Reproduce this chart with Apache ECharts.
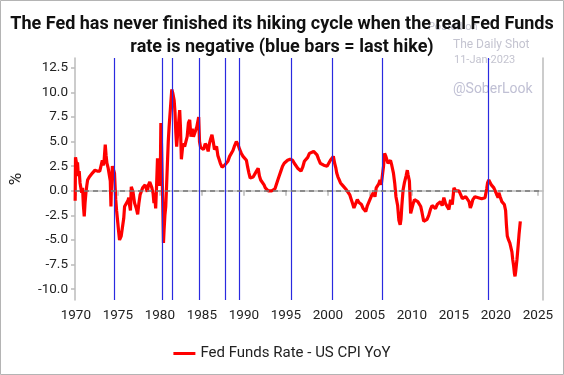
<!DOCTYPE html>
<html>
<head>
<meta charset="utf-8">
<script src="https://cdn.jsdelivr.net/npm/echarts@6/dist/echarts.min.js"></script>
<style>
  html, body { margin: 0; padding: 0; background: #fff; }
  #chart { width: 564px; height: 375px; }
</style>
</head>
<body>
<div id="chart"></div>
<script>
// decimal year / Fed funds minus CPI (%)
var dates = [
  1969.92, 1969.96, 1970.05, 1970.12, 1970.2, 1970.3, 1970.4, 1970.5, 1970.6, 1970.7, 1970.8, 1970.9,
  1971.0, 1971.1, 1971.2, 1971.3, 1971.4, 1971.5, 1971.6, 1971.7, 1971.8, 1971.97, 1972.1, 1972.28,
  1972.4, 1972.55, 1972.7, 1972.85, 1973.0, 1973.15, 1973.25, 1973.35, 1973.5, 1973.6, 1973.7, 1973.85,
  1974.0, 1974.1, 1974.18, 1974.25, 1974.35, 1974.5, 1974.6, 1974.68, 1974.75, 1974.85, 1975.0, 1975.1,
  1975.2, 1975.3, 1975.4, 1975.55, 1975.7, 1975.8, 1976.0, 1976.2, 1976.3, 1976.4, 1976.5, 1976.6,
  1976.7, 1976.8, 1976.99, 1977.2, 1977.36, 1977.5, 1977.65, 1977.8, 1977.95, 1978.1, 1978.25, 1978.4,
  1978.5, 1978.65, 1978.8, 1978.93, 1979.05, 1979.2, 1979.3, 1979.4, 1979.5, 1979.6, 1979.72, 1979.85,
  1979.95, 1980.05, 1980.12, 1980.2, 1980.3, 1980.38, 1980.43, 1980.5, 1980.6, 1980.7, 1980.8, 1980.9,
  1981.0, 1981.1, 1981.3, 1981.42, 1981.55, 1981.7, 1981.8, 1981.9, 1982.0, 1982.1, 1982.2, 1982.36,
  1982.45, 1982.56, 1982.75, 1982.95, 1983.1, 1983.25, 1983.4, 1983.55, 1983.7, 1983.85, 1984.0, 1984.2,
  1984.4, 1984.62, 1984.72, 1984.85, 1985.0, 1985.2, 1985.4, 1985.6, 1985.75, 1985.9, 1986.05, 1986.2,
  1986.35, 1986.5, 1986.6, 1986.75, 1986.9, 1987.05, 1987.2, 1987.4, 1987.55, 1987.7, 1987.9, 1988.1,
  1988.3, 1988.5, 1988.7, 1988.9, 1989.1, 1989.3, 1989.5, 1989.7, 1989.9, 1990.1, 1990.3, 1990.45,
  1990.6, 1990.75, 1990.9, 1991.1, 1991.3, 1991.5, 1991.7, 1991.85, 1992.0, 1992.2, 1992.4, 1992.55,
  1992.7, 1992.9, 1993.1, 1993.3, 1993.5, 1993.7, 1993.85, 1994.0, 1994.2, 1994.4, 1994.6, 1994.8,
  1995.0, 1995.2, 1995.5, 1995.8, 1996.0, 1996.2, 1996.4, 1996.6, 1996.8, 1997.0, 1997.2, 1997.35,
  1997.6, 1997.8, 1998.0, 1998.3, 1998.5, 1998.7, 1998.9, 1999.1, 1999.3, 1999.5, 1999.7, 1999.9,
  2000.1, 2000.3, 2000.5, 2000.65, 2000.8, 2000.95, 2001.05, 2001.2, 2001.35, 2001.5, 2001.65, 2001.8,
  2002.0, 2002.2, 2002.4, 2002.6, 2002.75, 2002.9, 2003.1, 2003.3, 2003.5, 2003.7, 2003.85, 2004.0,
  2004.2, 2004.4, 2004.5, 2004.7, 2004.85, 2005.0, 2005.2, 2005.4, 2005.6, 2005.75, 2005.9, 2006.05,
  2006.2, 2006.35, 2006.5, 2006.62, 2006.75, 2006.9, 2007.0, 2007.15, 2007.3, 2007.45, 2007.6, 2007.8,
  2007.95, 2008.1, 2008.3, 2008.45, 2008.6, 2008.7, 2008.8, 2008.95, 2009.1, 2009.3, 2009.45, 2009.55,
  2009.7, 2009.85, 2010.0, 2010.15, 2010.3, 2010.5, 2010.7, 2010.9, 2011.05, 2011.2, 2011.4, 2011.6,
  2011.8, 2012.0, 2012.2, 2012.4, 2012.6, 2012.8, 2013.0, 2013.2, 2013.4, 2013.6, 2013.8, 2014.0,
  2014.2, 2014.4, 2014.6, 2014.8, 2015.0, 2015.2, 2015.4, 2015.6, 2015.8, 2016.0, 2016.2, 2016.4,
  2016.6, 2016.8, 2016.95, 2017.1, 2017.25, 2017.5, 2017.7, 2017.9, 2018.1, 2018.3, 2018.5, 2018.7,
  2018.9, 2019.0, 2019.15, 2019.3, 2019.45, 2019.6, 2019.75, 2019.95, 2020.1, 2020.25, 2020.35, 2020.5,
  2020.7, 2020.9, 2021.0, 2021.15, 2021.25, 2021.35, 2021.5, 2021.65, 2021.8, 2021.9, 2022.0, 2022.1,
  2022.2, 2022.27, 2022.35, 2022.5, 2022.65, 2022.75, 2022.9
];
var realRate = [
  -1.0, 3.4, 3.5, 2.6, 2.9, 1.5, 2.0, 0.8, 1.0, -0.2, 0.3, -1.5,
  -2.6, -1.2, -0.2, 0.5, 1.1, 0.9, 1.4, 1.5, 1.3, 1.8, 1.7, 2.1,
  1.9, 2.0, 1.8, 2.0, 1.9, 3.1, 2.6, 2.9, 4.7, 3.6, 2.8, 2.3,
  2.1, 1.0, -1.6, 1.0, 2.5, 2.1, 1.8, 0.3, -0.9, -2.0, -3.3, -4.2,
  -5.0, -5.1, -4.6, -4.5, -2.8, -1.6, -1.8, -1.0, -0.7, -1.5, -2.0, 0.4,
  0.3, -0.1, -1.25, -1.8, -2.4, -1.3, -0.4, -0.2, 0.3, 0.1, 0.6, 0.2,
  -0.1, 0.6, 0.9, 1.1, 0.3, -0.3, -1.25, -0.5, -1.8, 0.3, 3.3, 2.1,
  0.5, 1.5, 6.9, 4.5, 0.5, -3.0, -5.3, -4.0, -2.5, -1.6, 0.5, 2.8,
  5.0, 6.5, 8.9, 10.3, 9.9, 9.2, 8.0, 5.9, 4.5, 5.6, 5.5, 8.2,
  6.5, 3.2, 4.8, 4.5, 4.5, 5.5, 6.9, 7.2, 5.5, 6.3, 5.5, 5.7,
  6.5, 7.5, 5.0, 4.4, 4.3, 4.2, 4.8, 4.5, 4.0, 4.8, 5.3, 5.7,
  5.0, 4.2, 4.0, 4.5, 3.6, 3.2, 2.8, 2.4, 2.3, 2.6, 2.8, 3.0,
  3.5, 3.65, 4.1, 4.6, 5.0, 4.7, 4.2, 3.8, 3.5, 3.3, 3.1, 2.4,
  1.8, 1.3, 1.1, 1.4, 1.5, 2.0, 2.3, 1.5, 1.1, 0.9, 0.6, 0.3,
  0.1, 0.0, -0.2, 0.0, 0.1, 0.2, 0.4, 1.0, 1.5, 2.0, 2.5, 2.8,
  3.0, 3.1, 3.2, 3.1, 2.8, 2.6, 2.3, 2.1, 2.0, 2.4, 3.0, 3.1,
  3.4, 3.8, 3.9, 4.0, 3.8, 3.65, 3.2, 2.8, 2.7, 2.6, 2.6, 2.5,
  2.8, 3.1, 3.3, 3.5, 2.8, 2.3, 1.8, 1.4, 1.1, 0.8, 0.6, 0.5,
  0.3, 0.1, 0.0, -0.4, -0.8, -1.2, -1.75, -1.3, -0.9, -1.2, -1.4, -1.4,
  -1.8, -2.0, -2.1, -1.5, -1.2, -0.9, -0.5, -0.2, -0.6, 0.3, 0.1, 0.7,
  1.1, 0.6, 0.8, 2.5, 3.8, 3.5, 3.3, 2.8, 2.6, 3.1, 2.6, 1.8,
  0.8, -0.6, -1.5, -3.0, -3.45, -2.9, -1.5, 0.1, 0.8, 1.5, 2.1, 1.6,
  1.0, -2.3, -2.4, -1.3, -0.9, -1.0, -1.1, -1.2, -1.6, -2.2, -3.1, -3.2,
  -2.9, -2.5, -1.9, -1.5, -1.4, -1.8, -1.4, -1.6, -1.1, -1.5, -0.7, -1.3,
  -1.4, -1.9, -0.9, -1.4, 0.3, 0.0, 0.1, 0.0, -0.4, -0.8, -0.6, -0.6,
  -0.6, -1.1, -1.75, -1.4, -0.9, -0.6, -0.8, -0.7, -0.6, -0.8, -0.6, -0.7,
  0.2, 0.8, 1.1, 0.9, 0.6, 0.5, 0.3, 0.1, -0.4, -0.7, -0.2, -0.6,
  -1.1, -1.25, -1.4, -2.0, -3.5, -4.6, -5.0, -5.3, -5.5, -6.2, -7.0, -7.6,
  -8.4, -8.7, -8.2, -7.0, -5.5, -4.4, -3.1
];
// last hike of each cycle (blue bars)
var lastHikes = [1974.63, 1980.32, 1981.46, 1984.73, 1987.83, 1989.49, 1995.64, 2000.48, 2006.52, 2019.04];
var xTicks = [1970, 1975, 1980, 1985, 1990, 1995, 2000, 2005, 2010, 2015, 2020, 2025];
var yTicks = [-10, -7.5, -5, -2.5, 0, 2.5, 5, 7.5, 10, 12.5];

var seriesName = 'Fed Funds Rate - US CPI YoY';
var points = dates.map(function (d, i) { return [d, realRate[i]]; });

var myChart = echarts.init(document.getElementById('chart'));
var font = 'Roboto, "Noto Sans", sans-serif';
var option = {
  backgroundColor: '#ffffff',
  animation: false,
  textStyle: { fontFamily: font },
  title: {
    text: 'The Fed has never finished its hiking cycle when the real Fed Funds\nrate is negative (blue bars = last hike)',
    left: 'center',
    top: 8,
    z: 10,
    textStyle: { fontFamily: font, fontSize: 18, fontWeight: 'bold', color: '#111', lineHeight: 23 }
  },
  graphic: [
    { type: 'rect', z: -1, silent: true, shape: { x: 0.5, y: 0.5, width: 563, height: 374 },
      style: { fill: 'none', stroke: '#b4b4b4', lineWidth: 1 } },
    { type: 'text', z: 0, left: 428, top: 22, style: { text: 'Posted on', fill: '#c4c4d0', font: '11px Roboto' } },
    { type: 'text', z: 0, left: 453, top: 39, style: { text: 'The Daily Shot', fill: '#c4c4d0', font: '12px Roboto' } },
    { type: 'text', z: 0, left: 454, top: 55, style: { text: '11-Jan-2023', fill: '#c4c4d0', font: '11px Roboto' } },
    { type: 'text', z: 0, left: 453, top: 82, style: { text: '@SoberLook', fill: '#c0c0d4', font: '14px Roboto' } }
  ],
  legend: {
    data: [seriesName],
    bottom: 9,
    left: 'center',
    icon: 'rect',
    itemWidth: 22,
    itemHeight: 3,
    itemGap: 6,
    textStyle: { fontFamily: font, fontSize: 15, color: '#222' }
  },
  grid: { left: 71, right: 21, top: 58, bottom: 75 },
  xAxis: {
    type: 'value',
    min: 1969.9,
    max: 2025.6,
    splitLine: { show: false },
    axisLine: { show: true, lineStyle: { color: '#bbbbbb', width: 1.5 } },
    axisTick: { show: true, length: 5, customValues: xTicks, lineStyle: { color: '#bbbbbb', width: 1.5 } },
    axisLabel: { customValues: xTicks, margin: 9, fontSize: 13.5, color: '#222', fontFamily: font,
      formatter: function (v) { return String(v); } }
  },
  yAxis: [{
    type: 'value',
    min: -11.1,
    max: 13.5,
    name: '%',
    nameLocation: 'middle',
    nameGap: 50,
    nameRotate: 90,
    nameTextStyle: { fontSize: 17, color: '#222', fontFamily: font },
    splitLine: { show: false },
    axisLine: { show: true, lineStyle: { color: '#bbbbbb', width: 1.5 } },
    axisTick: { show: true, length: 4, customValues: yTicks, lineStyle: { color: '#bbbbbb', width: 1.5 } },
    axisLabel: { customValues: yTicks, margin: 7, fontSize: 13.5, color: '#222', fontFamily: font,
      formatter: function (v) { return v.toFixed(1); } }
  }, {
    type: 'value',
    position: 'right',
    min: -11.1,
    max: 13.5,
    splitLine: { show: false },
    axisLine: { show: true, lineStyle: { color: '#bbbbbb', width: 1.5 } },
    axisTick: { show: false },
    axisLabel: { show: false }
  }],
  series: [
    {
      name: 'hikes',
      type: 'line',
      data: [],
      z: 1,
      silent: true,
      markLine: {
        silent: true,
        symbol: 'none',
        label: { show: false },
        lineStyle: { color: '#2a2ae0', width: 1.2, type: 'solid' },
        data: lastHikes.map(function (v) { return { xAxis: v }; })
      }
    },
    {
      name: 'zero',
      type: 'line',
      data: [],
      z: 2,
      silent: true,
      markLine: {
        silent: true,
        symbol: 'none',
        label: { show: false },
        lineStyle: { color: '#777777', width: 1.5, type: [5, 4] },
        data: [{ yAxis: 0 }]
      }
    },
    {
      name: seriesName,
      type: 'line',
      data: points,
      z: 3,
      showSymbol: false,
      symbol: 'none',
      lineStyle: { color: '#ff0000', width: 3.2 },
      itemStyle: { color: '#ff0000' }
    }
  ]
};
// 使用刚指定的配置项和数据显示图表。
myChart.setOption(option);
</script>
</body>
</html>
